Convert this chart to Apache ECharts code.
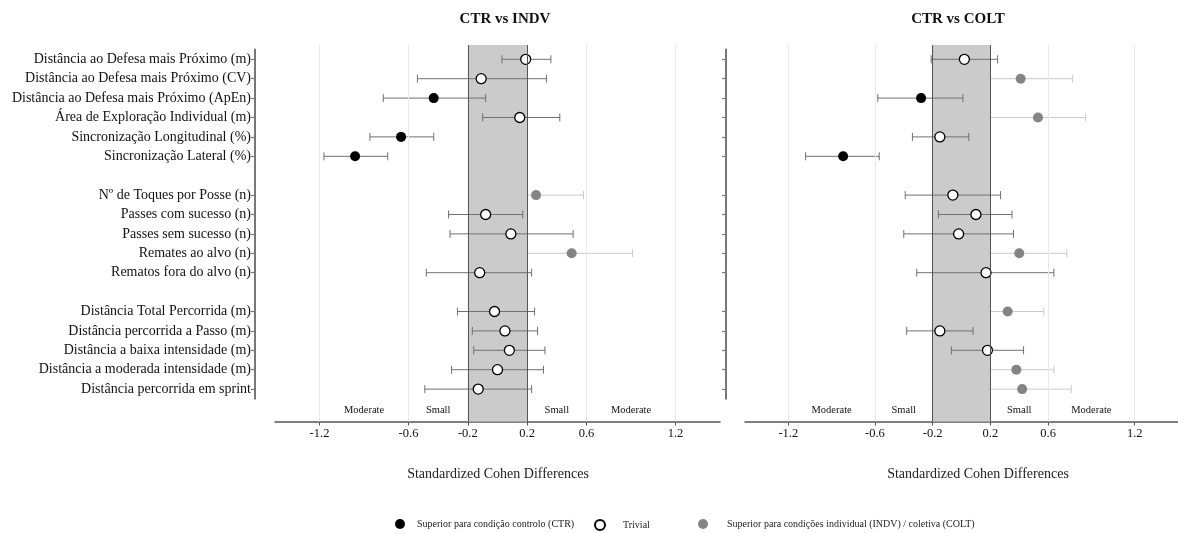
<!DOCTYPE html>
<html><head><meta charset="utf-8">
<script src="https://cdn.jsdelivr.net/npm/echarts@6/dist/echarts.min.js"></script>
<style>html,body{margin:0;padding:0;background:#fff}#c{width:1178px;height:533px}</style>
</head><body><div id="c"></div>
<script>
// ---------- data ----------
const categories = [
  'Distância ao Defesa mais Próximo (m)',
  'Distância ao Defesa mais Próximo (CV)',
  'Distância ao Defesa mais Próximo (ApEn)',
  'Área de Exploração Individual (m)',
  'Sincronização Longitudinal (%)',
  'Sincronização Lateral (%)',
  'Nº de Toques por Posse (n)',
  'Passes com sucesso (n)',
  'Passes sem sucesso (n)',
  'Remates ao alvo (n)',
  'Rematos fora do alvo (n)',
  'Distância Total Percorrida (m)',
  'Distância percorrida a Passo (m)',
  'Distância a baixa intensidade (m)',
  'Distância a moderada intensidade (m)',
  'Distância percorrida em sprint'
];
const groupSizes = [6, 5, 5];

// CTR vs INDV
const indvEffect = [0.19, -0.11, -0.43, 0.15, -0.65, -0.96, 0.26, -0.08, 0.09, 0.50, -0.12, -0.02, 0.05, 0.08, 0.00, -0.13];
const indvLower  = [0.03, -0.54, -0.77, -0.10, -0.86, -1.17, -0.07, -0.33, -0.32, 0.09, -0.48, -0.27, -0.17, -0.16, -0.31, -0.49];
const indvUpper  = [0.36, 0.33, -0.08, 0.42, -0.43, -0.74, 0.58, 0.17, 0.51, 0.91, 0.23, 0.25, 0.27, 0.32, 0.31, 0.23];
// 0 = superior CTR, 1 = trivial, 2 = superior INDV/COLT
const indvClass  = [1, 1, 0, 1, 0, 0, 2, 1, 1, 2, 1, 1, 1, 1, 1, 1];

// CTR vs COLT
const coltEffect = [0.02, 0.41, -0.28, 0.53, -0.15, -0.82, -0.06, 0.10, -0.02, 0.40, 0.17, 0.32, -0.15, 0.18, 0.38, 0.42];
const coltLower  = [-0.21, 0.04, -0.58, 0.18, -0.34, -1.08, -0.39, -0.16, -0.40, 0.06, -0.31, 0.06, -0.38, -0.07, 0.13, 0.08];
const coltUpper  = [0.25, 0.77, 0.01, 0.86, 0.05, -0.57, 0.27, 0.35, 0.36, 0.73, 0.64, 0.57, 0.08, 0.43, 0.64, 0.76];
const coltClass  = [1, 2, 0, 2, 1, 0, 1, 1, 1, 2, 1, 2, 1, 1, 2, 2];

const tickValues = [-1.2, -0.6, -0.2, 0.2, 0.6, 1.2];
const trivialBand = [-0.2, 0.2];
const zoneCenters = [-0.9, -0.4, 0.4, 0.9];
const zoneLabels = ['Moderate', 'Small', 'Small', 'Moderate'];
const classNames = ['Superior para condição controlo (CTR)', 'Trivial', 'Superior para condições individual (INDV) / coletiva (COLT)'];
const panelTitles = ['CTR vs INDV', 'CTR vs COLT'];
const xAxisName = 'Standardized Cohen Differences';

// ---------- build ----------
const FONT = '"Liberation Serif", "Times New Roman", serif';
const rows = [];
const rowOf = [];
let k = 0;
groupSizes.forEach((n, g) => {
  if (g > 0) rows.push(' '.repeat(g));
  for (let j = 0; j < n; j++) { rowOf.push(rows.length); rows.push(categories[k++]); }
});

const panels = [
  { eff: indvEffect, lo: indvLower, hi: indvUpper, cls: indvClass, left: 275, width: 445, yOff: 20, titleX: 505, nameX: 498 },
  { eff: coltEffect, lo: coltLower, hi: coltUpper, cls: coltClass, left: 745, width: 446, yOff: 19, titleX: 958, nameX: 978 }
];
const classStyles = [
  { color: '#000', borderColor: '#000', borderWidth: 0 },
  { color: '#fff', borderColor: '#000', borderWidth: 1.3 },
  { color: '#848484', borderColor: '#848484', borderWidth: 0 }
];
const gridLineVals = tickValues.filter(v => trivialBand.indexOf(v) < 0);

const grid = [], xAxis = [], yAxis = [], series = [], title = [];

function renderErr(params, api) {
  const y = api.value(2);
  const a = api.coord([api.value(0), y]);
  const b = api.coord([api.value(1), y]);
  const cls = api.value(3);
  const color = cls === 2 ? '#cacaca' : '#707070';
  const h = 4;
  const style = { stroke: color, lineWidth: 1 };
  return { type: 'group', children: [
    { type: 'line', shape: { x1: a[0], y1: a[1], x2: b[0], y2: b[1] }, style },
    { type: 'line', shape: { x1: a[0], y1: a[1] - h, x2: a[0], y2: a[1] + h }, style },
    { type: 'line', shape: { x1: b[0], y1: b[1] - h, x2: b[0], y2: b[1] + h }, style }
  ]};
}

panels.forEach((p, pi) => {
  const gF = pi * 2, gR = pi * 2 + 1;
  grid.push({ left: p.left, width: p.width, top: 45, height: 376.5 });
  grid.push({ left: p.left, width: p.width, top: 49.6, height: 349.2 });
  xAxis.push({
    gridIndex: gF, type: 'value', min: -1.5, max: 1.5,
    axisLine: { onZero: false, lineStyle: { color: '#555', width: 1.5 } },
    axisTick: { customValues: tickValues, length: 4, lineStyle: { color: '#555' } },
    axisLabel: { customValues: tickValues, margin: 6, fontFamily: FONT, fontSize: 12.5, color: '#111' },
    splitLine: { show: false }
  });
  xAxis.push({
    gridIndex: gR, type: 'value', min: -1.5, max: 1.5,
    axisLine: { show: false, onZero: false }, axisTick: { show: false }, splitLine: { show: false },
    axisLabel: {
      customValues: zoneCenters, margin: 6, fontFamily: FONT, fontSize: 10.5, color: '#111',
      formatter: v => {
        let best = 0;
        zoneCenters.forEach((c, i) => { if (Math.abs(c - v) < Math.abs(zoneCenters[best] - v)) best = i; });
        return zoneLabels[best];
      }
    }
  });
  yAxis.push({ gridIndex: gF, type: 'value', min: 0, max: 1, show: false });
  yAxis.push({
    gridIndex: gR, type: 'category', data: rows, inverse: true, offset: p.yOff, z: 5,
    axisLine: { show: true, onZero: false, lineStyle: { color: '#777', width: 2 } },
    axisTick: { show: true, alignWithLabel: true, length: 4, interval: (i, v) => v.trim() !== '', lineStyle: { color: '#777', width: 1.2 } },
    axisLabel: { show: pi === 0, interval: 0, margin: 4, fontFamily: FONT, fontSize: 14, color: '#111' },
    splitLine: { show: false }
  });
  // band + grid lines
  series.push({
    type: 'line', xAxisIndex: gF, yAxisIndex: gF, data: [], z: 1, silent: true,
    markArea: { silent: true, itemStyle: { color: '#cbcbcb' }, data: [[{ xAxis: trivialBand[0] }, { xAxis: trivialBand[1] }]] },
    markLine: { silent: true, symbol: 'none', label: { show: false },
      lineStyle: { color: '#e9e9e9', type: 'solid', width: 1 },
      data: gridLineVals.map(v => ({ xAxis: v })) }
  });
  series.push({
    type: 'line', xAxisIndex: gF, yAxisIndex: gF, data: [], z: 2, silent: true,
    markLine: { silent: true, symbol: 'none', label: { show: false },
      lineStyle: { color: '#555', type: 'solid', width: 1 },
      data: trivialBand.map(v => ({ xAxis: v })) }
  });
  // error bars
  series.push({
    type: 'custom', xAxisIndex: gR, yAxisIndex: gR, z: 3, silent: true,
    renderItem: renderErr,
    encode: { x: [0, 1], y: 2 },
    data: p.eff.map((e, i) => [p.lo[i], p.hi[i], rowOf[i], p.cls[i]])
  });
  // points by class
  classNames.forEach((name, c) => {
    series.push({
      name, type: 'scatter', xAxisIndex: gR, yAxisIndex: gR, z: 4,
      symbol: 'circle', symbolSize: 10,
      itemStyle: Object.assign({ opacity: 1 }, classStyles[c]),
      data: p.eff.map((e, i) => p.cls[i] === c ? [e, rowOf[i]] : null).filter(d => d)
    });
  });
  title.push({ text: panelTitles[pi], left: p.titleX, top: 12, textAlign: 'center', padding: 0,
    textStyle: { fontFamily: FONT, fontSize: 15, fontWeight: 'bold', color: '#111' } });
  title.push({ text: xAxisName, left: p.nameX, top: 467, textAlign: 'center', padding: 0,
    textStyle: { fontFamily: FONT, fontSize: 14, fontWeight: 'normal', color: '#222' } });
});

const legendLayout = [{ left: 395, w: 24 }, { left: 594, w: 36 }, { left: 698, w: 38 }];
const legend = classNames.map((name, i) => ({
  data: [name], left: legendLayout[i].left, top: 519, padding: 0,
  itemWidth: legendLayout[i].w, itemHeight: 10, selectedMode: false,
  textStyle: { fontFamily: FONT, fontSize: 10, color: '#222' }
}));

const chart = echarts.init(document.getElementById('c'), null, { renderer: 'canvas' });
chart.setOption({ animation: false, backgroundColor: '#fff', title, legend, grid, xAxis, yAxis, series });
</script></body></html>
